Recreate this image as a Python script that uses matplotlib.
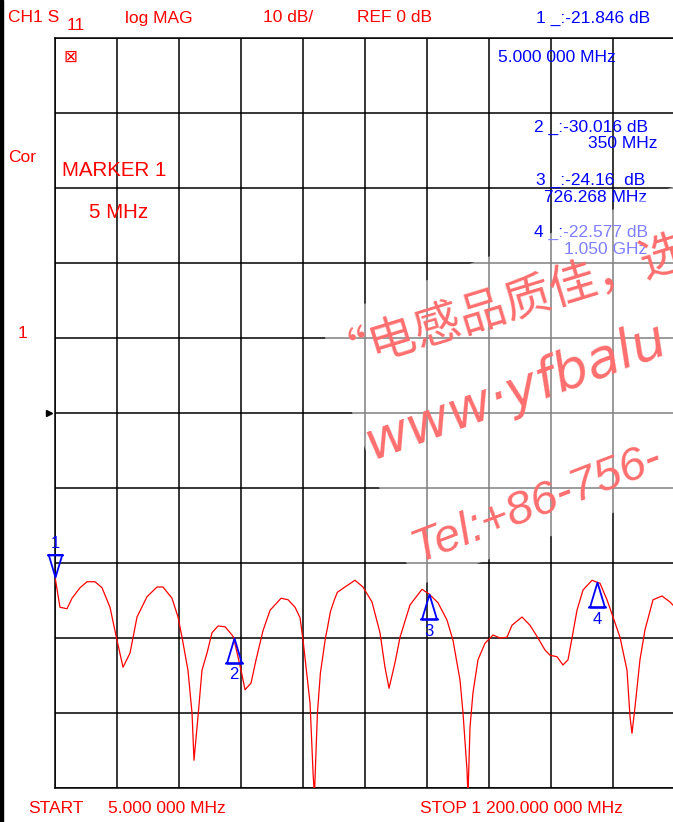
import matplotlib.pyplot as plt
import numpy as np
from matplotlib.path import Path
from matplotlib.patches import Polygon, Rectangle

# trace (MHz, dB)
freq_mhz = [5, 14.6, 28.1, 37.8, 53.2, 66.7, 82.1, 95.6, 111.0, 124.5,
            136.1, 149.6, 163.1, 182.3, 201.6, 213.2, 230.5, 242.1, 249.8, 261.3,
            269.1, 272.9, 280.6, 288.3, 298.0, 307.6, 319.2, 332.7, 346.2, 350.0,
            352.0, 363.6, 371.3, 382.9, 392.5, 406.0, 419.5, 440.7, 454.2, 467.7,
            477.3, 483.1, 496.6, 502.4, 505.0, 510.8, 516.5, 526.2, 530.0, 535.8,
            543.5, 549.3, 563.9, 583.2, 598.6, 616.0, 631.4, 641.0, 648.8, 660.3,
            670.0, 689.2, 712.4, 726.3, 743.2, 760.5, 772.1, 785.6, 791.4, 799.1,
            801.0, 804.9, 810.6, 820.3, 833.8, 849.2, 862.7, 876.2, 885.8, 905.1,
            920.5, 935.9, 949.4, 959.1, 972.6, 984.1, 993.8, 1001.5, 1011.1, 1022.7,
            1040.1, 1050.0, 1055.4, 1068.9, 1080.5, 1094.0, 1107.5, 1113.3, 1117.1, 1122.9,
            1132.5, 1142.2, 1157.6, 1174.9, 1190.4, 1200.0]
s11_db = [-21.85, -25.9, -26.1, -24.7, -23.3, -22.5, -22.5, -23.3, -25.9, -30.3,
          -33.9, -32.0, -27.2, -24.5, -23.2, -23.2, -24.7, -27.2, -29.9, -34.3,
          -40.0, -46.3, -40.5, -34.3, -32.0, -29.3, -28.4, -28.5, -29.6, -30.0,
          -30.8, -34.3, -36.9, -36.0, -32.9, -29.0, -26.3, -24.7, -24.9, -25.9,
          -27.3, -30.3, -38.7, -48.0, -51.0, -40.0, -34.7, -30.0, -28.7, -26.5,
          -24.9, -23.9, -23.2, -22.3, -23.2, -25.2, -29.3, -33.9, -36.7, -33.3,
          -29.9, -25.6, -23.5, -24.16, -25.3, -27.6, -30.3, -35.6, -40.0, -47.6,
          -51.0, -41.9, -37.3, -32.9, -30.7, -29.6, -30.0, -29.9, -28.3, -27.2,
          -28.3, -30.0, -31.6, -32.3, -32.5, -33.6, -32.9, -30.0, -26.3, -23.6,
          -22.3, -22.58, -22.7, -24.9, -27.2, -29.9, -34.3, -40.5, -42.7, -39.2,
          -32.9, -28.9, -24.9, -24.4, -25.2, -25.9]

marker_ids = ['1', '2', '3', '4']
marker_freq = [5.0, 350.0, 726.268, 1050.0]
marker_db = [-21.846, -30.016, -24.16, -22.577]

start_mhz = 5.0
stop_mhz = 1200.0

W, H = 673, 822
RED = '#ff0000'
BLUE = '#0000ff'
FONT = ['Liberation Sans', 'DejaVu Sans']


def ftxt(x, y, s, **kw):
    # place text by screen pixel position
    kw.setdefault('family', FONT)
    kw.setdefault('va', 'center')
    kw.setdefault('fontsize', 12.5)
    return fig.text(x / W, 1 - y / H, s, **kw)


fig = plt.figure(figsize=(W / 100, H / 100), dpi=100)
fig.patch.set_facecolor('white')

ax = fig.add_axes([55 / W, 34 / H, 620 / W, 750 / H])
ax.set_xlim(start_mhz, stop_mhz)
ax.set_ylim(-50, 50)
ax.set_xticks(np.linspace(start_mhz, stop_mhz, 11))
ax.set_yticks(np.arange(-50, 51, 10))
ax.tick_params(length=0, labelbottom=False, labelleft=False)
ax.grid(True, color='black', lw=1.1)
for sp in ax.spines.values():
    sp.set_color('black')
    sp.set_linewidth(1.1)

ax.plot(freq_mhz, s11_db, color=RED, lw=0.9, zorder=3)

# marker arrows
up_arrow = Path([(0, 0), (-0.3, -1), (0.3, -1), (0, 0), (0, -1), (-0.38, -1), (0.38, -1)],
                [Path.MOVETO, Path.LINETO, Path.LINETO, Path.CLOSEPOLY,
                 Path.MOVETO, Path.MOVETO, Path.LINETO])
down_arrow = Path([(0, 0), (-0.3, 1), (0.3, 1), (0, 0), (0, 1.0), (-0.38, 1), (0.38, 1)],
                  [Path.MOVETO, Path.LINETO, Path.LINETO, Path.CLOSEPOLY,
                   Path.MOVETO, Path.MOVETO, Path.LINETO])
for i, (mid, mf, md) in enumerate(zip(marker_ids, marker_freq, marker_db)):
    if i == 0:
        ax.plot([mf], [md], marker=down_arrow, ms=32, mfc='none', mec=BLUE, mew=1.3,
                clip_on=False, zorder=4)
        ax.annotate(mid, (mf, md), xytext=(0, 24), textcoords='offset points',
                    ha='center', va='center', color=BLUE, fontsize=12, family=FONT,
                    annotation_clip=False)
    else:
        ax.plot([mf], [md], marker=up_arrow, ms=36, mfc='none', mec=BLUE, mew=1.3,
                clip_on=False, zorder=4)
        ax.annotate(mid, (mf, md), xytext=(0, -26.5), textcoords='offset points',
                    ha='center', va='center', color=BLUE, fontsize=12, family=FONT)

# reference position pointer
ax.plot([-0.009], [0.5], marker='>', ms=4, color='black', transform=ax.transAxes,
        clip_on=False)

# header / side annotations
ftxt(8, 18, 'CH1 S', color=RED)
ftxt(67, 25, '11', color=RED)
ftxt(125, 18, 'log MAG', color=RED)
ftxt(263, 18, '10 dB/', color=RED)
ftxt(357, 18, 'REF 0 dB', color=RED)
ftxt(650, 18, '1 _:-21.846 dB', color=BLUE, ha='right')
ftxt(498, 58, '5.000 000 MHz', color=BLUE)
ftxt(70, 57, '\u22a0', color=RED, fontsize=12, ha='center', family='DejaVu Sans')
ftxt(648, 127, '2 _:-30.016 dB', color=BLUE, ha='right')
ftxt(657, 143, '350 MHz', color=BLUE, ha='right')
ftxt(645, 180, '3 _:-24.16  dB', color=BLUE, ha='right')
ftxt(647, 197, '726.268 MHz', color=BLUE, ha='right')
ftxt(648, 232, '4 _:-22.577 dB', color=BLUE, ha='right')
ftxt(647, 250, '1.050 GHz', color=BLUE, ha='right')
ftxt(8, 157, 'Cor', color=RED)
ftxt(62, 171, 'MARKER 1', color=RED, fontsize=14.8)
ftxt(89, 212, '5 MHz', color=RED, fontsize=14.8)
ftxt(18, 333, '1', color=RED)
ftxt(28, 808, 'START', color=RED)
ftxt(108, 808, '5.000 000 MHz', color=RED)
ftxt(420, 808, 'STOP 1 200.000 000 MHz', color=RED)

# black strip on the left edge of the screenshot
fig.patches.append(Rectangle((0, 0), 3 / W, 1, transform=fig.transFigure,
                             color='black', zorder=5))

# watermark: washed-out box and pink text
box_px = [(319, 321), (415, 587), (720, 473), (720, 169)]
box = Polygon([(x / W, 1 - y / H) for x, y in box_px], closed=True,
              transform=fig.transFigure, facecolor='white', edgecolor='none',
              alpha=0.5, zorder=6)
fig.patches.append(box)

WM = '#ff6e6e'
ftxt(328, 366, '\u201c电感品质佳，选', color=WM, fontsize=34, rotation=17,
     rotation_mode='anchor', va='baseline', family=['Noto Sans CJK SC', 'DejaVu Sans'],
     zorder=7)
ftxt(372, 460, 'www\u00b7yfbalu', color=WM, fontsize=39, rotation=20,
     rotation_mode='anchor', va='baseline', family='DejaVu Sans', style='italic', zorder=7)
ftxt(418, 562, 'Tel:+86-756-', color=WM, fontsize=34, rotation=21,
     rotation_mode='anchor', va='baseline', family='Liberation Sans', style='italic',
     zorder=7)

fig.savefig('out.png', dpi=100, facecolor='white')
